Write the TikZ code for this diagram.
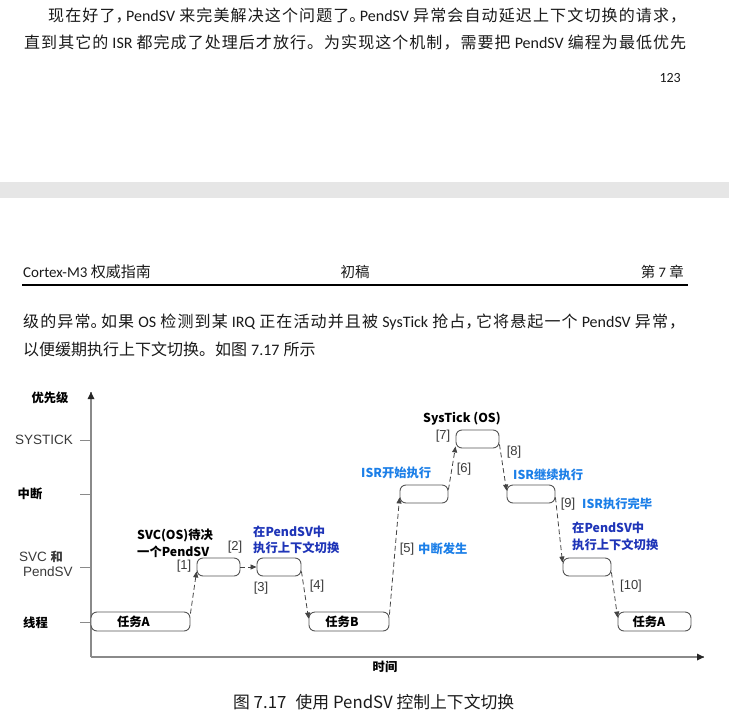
\documentclass[tikz,border=0pt]{standalone}
\usepackage{fontspec}
\setmainfont{Carlito}
\newfontfamily\cjk{Noto Sans CJK SC}
\newfontfamily\cjkhalt{Noto Sans CJK SC}[RawFeature=+halt]
\newfontfamily\lat{Carlito}
\newfontfamily\arial{Liberation Sans}
\usetikzlibrary{arrows.meta}
% inter-character glue between CJK characters (for justified lines)
\newXeTeXintercharclass\cjkcls
\makeatletter
\count@="4E00
\loop\ifnum\count@<"A000 \XeTeXcharclass\count@=\cjkcls \advance\count@ by 1 \repeat
\count@="3000
\loop\ifnum\count@<"3040 \XeTeXcharclass\count@=\cjkcls \advance\count@ by 1 \repeat
\count@="FF00
\loop\ifnum\count@<"FF60 \XeTeXcharclass\count@=\cjkcls \advance\count@ by 1 \repeat
\makeatother
\XeTeXinterchartoks\cjkcls\cjkcls={\hskip0pt plus 3pt\relax}
\definecolor{bandc}{HTML}{E6E6E6}
\definecolor{boxc}{HTML}{555555}
\definecolor{arrc}{HTML}{444444}
\definecolor{axisc}{HTML}{8A8A8A}
\definecolor{lblue}{HTML}{1C7FE8}
\definecolor{dblue}{HTML}{1F35B8}
\definecolor{numc}{HTML}{3A3A3A}
\definecolor{txtc}{HTML}{1A1A1A}
\newcommand\halfp[1]{{\cjkhalt #1}\kern2.5pt\relax}
\newcommand\bodyf{\cjk\fontsize{16}{18}\selectfont\spaceskip=0.25em plus 0.3pt\relax}
\newcommand\lblf{\cjk\bfseries\fontsize{12.3}{16.5}\selectfont}
\newcommand\numf{\arial\fontsize{13}{15}\selectfont}
\newcommand\jline[2]{\hbox to #1{\XeTeXinterchartokenstate=1 \bodyf #2}}
\begin{document}
\begin{tikzpicture}[x=1pt,y=-1pt,
  txt/.style={inner sep=0pt, text=txtc},
  lbl/.style={inner sep=0pt, font=\lblf, align=left},
  num/.style={inner sep=0pt, font=\numf, text=numc},
  box/.style={draw=boxc, fill=white, rounded corners=6pt, line width=0.9pt,
    minimum height=18pt, inner sep=0pt, font=\lblf},
  task/.style={box, minimum height=19pt},
  darr/.style={draw=arrc, line width=0.8pt, dash pattern=on 5pt off 3pt,
    -{Triangle[length=6pt,width=5pt]}},
  axis/.style={draw=axisc, line width=1.5pt},
  tick/.style={draw=axisc, line width=1pt}]
\useasboundingbox (0,0) rectangle (729,726);
\fill[white] (0,0) rectangle (729,726);

% ---- top page text ----
\node[txt, anchor=west] (t1) at (48,16) {\jline{638pt}{现在好了\halfp{，}{\lat PendSV} 来完美解决这个问题了\halfp{。}{\lat PendSV} 异常会自动延迟上下文切换的请求，}};
\node[txt, anchor=west] (t2) at (24,43) {\jline{662pt}{直到其它的 {\lat ISR} 都完成了处理后才放行。为实现这个机制，需要把 {\lat PendSV} 编程为最低优先}};
\node[txt, anchor=east, font=\lat\fontsize{14}{16}\selectfont] (pg) at (681,78) {123};

% ---- band ----
\fill[bandc] (0,182) rectangle (729,198);

% ---- header ----
\node[txt, anchor=west] (h1) at (23,272) {\lat\fontsize{15}{17}\selectfont Cortex-M3 {\cjk 权威指南}};
\node[txt] (h2) at (355,272) {\cjk\fontsize{14.5}{16}\selectfont 初稿};
\node[txt, anchor=east] (h3) at (684,272) {\cjk\fontsize{14.5}{16}\selectfont 第 {\lat 7} 章};
\draw[line width=1.6pt] (22,285) -- (688,285);

\node[txt, anchor=west] (p1) at (23,322) {\jline{662pt}{级的异常\halfp{。}如果 {\lat OS} 检测到某 {\lat IRQ} 正在活动并且被 {\lat SysTick} 抢占\halfp{，}它将悬起一个 {\lat PendSV} 异常，}};
\node[txt, anchor=west] (p2) at (23,349) {\bodyf 以便缓期执行上下文切换。如图 {\lat 7.17} 所示};

% ---- axes ----
\coordinate (O) at (91,657);
\coordinate (Ytop) at (91,392);
\coordinate (Xend) at (704,657);
\draw[axis] (O) -- (Ytop);
\draw[axis] (O) -- (Xend);
\fill[black!85] (Ytop) -- ++(-3.5,7) -- ++(7,0) -- cycle;
\fill[black!85] (Xend) -- ++(-7,-3.5) -- ++(0,7) -- cycle;
\draw[tick] (80,440) -- (91,440);
\draw[tick] (80,494) -- (91,494);
\draw[tick] (80,567) -- (91,567);
\draw[tick] (80,622) -- (91,622);

% ---- axis labels ----
\node[lbl] (prio) at (50,398) {优先级};
\node[num, font=\arial\fontsize{13.5}{15}\selectfont] (ysys) at (44,440) {SYSTICK};
\node[lbl] (yint) at (30,494) {中断};
\node[num, anchor=west, font=\arial\fontsize{13.5}{15}\selectfont] (ysvc) at (19,557) {SVC {\lblf 和}};
\node[num, anchor=west, font=\arial\fontsize{13.5}{15}\selectfont] (ypsv) at (23,572) {PendSV};
\node[lbl] (ythr) at (35.5,623) {线程};
\node[lbl] (xtime) at (385,667) {时间};

% ---- boxes ----
\node[task, minimum width=99pt] (taskA) at (140.5,621.5) {\hspace*{-14pt}任务A};
\node[box, minimum width=43pt] (svc1) at (218.5,567) {};
\node[box, minimum width=44pt] (psv1) at (279,567) {};
\node[task, minimum width=80pt] (taskB) at (349,621.5) {\hspace*{-14pt}任务B};
\node[box, minimum width=48pt] (isr1) at (424,494) {};
\node[box, minimum width=43pt] (sys) at (477.5,439) {};
\node[box, minimum width=48pt] (isr2) at (531,494) {};
\node[box, minimum width=48pt] (psv2) at (587,567) {};
\node[task, minimum width=73pt] (taskA2) at (654.5,621.5) {\hspace*{-11pt}任务A};

% ---- connectors ----
\draw[darr] ([yshift=-2pt]taskA.north east) -- ([yshift=5pt]svc1.south west);
\draw[darr] (svc1.east) -- (psv1.west);
\draw[darr] ([yshift=5pt]psv1.south east) -- ([yshift=-7pt]taskB.north west);
\draw[darr] ([yshift=-3pt]taskB.north east) -- ([yshift=6pt]isr1.south west);
\draw[darr] ([yshift=-5pt]isr1.north east) -- ([yshift=2pt]sys.south west);
\draw[darr] ([yshift=4pt]sys.south east) -- ([yshift=-6pt]isr2.north west);
\draw[darr] ([yshift=6pt]isr2.south east) -- ([yshift=-5pt]psv2.north west);
\draw[darr] ([yshift=4pt]psv2.south east) -- ([yshift=-6pt]taskA2.north west);

% ---- step numbers ----
\node[num] (n1) at (184,566) {[1]};
\node[num] (n2) at (235,547) {[2]};
\node[num] (n3) at (261,588) {[3]};
\node[num] (n4) at (317,586) {[4]};
\node[num] (n5) at (407,549) {[5]};
\node[num] (n6) at (464,469) {[6]};
\node[num] (n7) at (443,436) {[7]};
\node[num] (n8) at (514,452) {[8]};
\node[num] (n9) at (568,504) {[9]};
\node[num] (n10) at (631,586) {[10]};

% ---- annotations ----
\node[lbl, anchor=west] (a1) at (137,543.5) {SVC(OS)待决\\一个PendSV};
\node[lbl, anchor=west, text=dblue] (a2) at (253,540) {在PendSV中\\执行上下文切换};
\node[lbl, anchor=west, text=lblue] (a3) at (418,549) {中断发生};
\node[lbl, anchor=west, text=lblue] (a4) at (361,473) {ISR开始执行};
\node[lbl, anchor=west] (a5) at (423,419) {SysTick (OS)};
\node[lbl, anchor=west, text=lblue] (a6) at (513,475) {ISR继续执行};
\node[lbl, anchor=west, text=lblue] (a7) at (582,504) {ISR执行完毕};
\node[lbl, anchor=west, text=dblue] (a8) at (572,536.5) {在PendSV中\\执行上下文切换};

% ---- caption ----
\node[txt, anchor=west, font=\cjk\fontsize{16.8}{20}\selectfont] (cap) at (233,702) {图 7.17\hspace{0.55em}使用 PendSV 控制上下文切换};
\end{tikzpicture}
\end{document}
